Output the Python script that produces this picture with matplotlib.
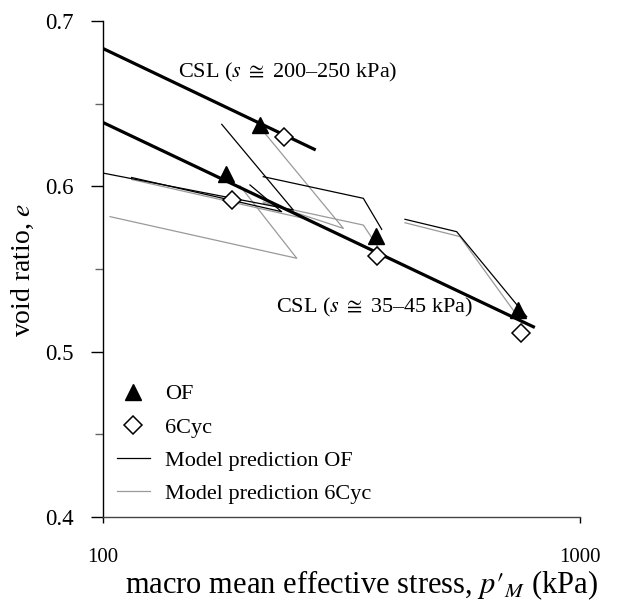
import numpy as np
import matplotlib
matplotlib.use("Agg")
import matplotlib.pyplot as plt
from matplotlib.ticker import FixedLocator, NullLocator, FixedFormatter

plt.rcParams['font.family'] = ['Liberation Serif', 'DejaVu Serif']
plt.rcParams['mathtext.fontset'] = 'stix'

# measured points (p'M in kPa, void ratio e)
of_p = [213.6, 181.0, 373.8, 742.5]
of_e = [0.637, 0.6075, 0.570, 0.525]
cyc_p = [240.2, 186.3, 375.1, 751.0]
cyc_e = [0.6298, 0.5918, 0.5579, 0.511]

# critical state lines
csl_hi_p = [100.0, 277.5]
csl_hi_e = [0.6836, 0.6225]
csl_lo_p = [100.0, 798.6]
csl_lo_e = [0.6388, 0.515]

# model predictions, OF (black)
mod_of = [
    ([100.5, 250.8, 177.6], [0.6080, 0.5857, 0.6376]),
    ([115.0, 237.1, 203.5], [0.6054, 0.5847, 0.6009]),
    ([217.0, 351.6, 384.2], [0.6059, 0.5928, 0.5740]),
    ([429.8, 551.5, 773.3], [0.5801, 0.5726, 0.5211]),
]
# model predictions, 6Cyc (grey)
mod_cyc = [
    ([103.6, 255.0, 194.0], [0.5817, 0.5565, 0.6003]),
    ([115.0, 263.2], [0.6042, 0.5807]),
    ([217.0, 319.3, 210.2], [0.5906, 0.5746, 0.6382]),
    ([217.0, 351.6, 381.1], [0.5897, 0.5766, 0.5615]),
    ([429.8, 560.5, 758.6], [0.5780, 0.5696, 0.5171]),
]

fig = plt.figure(figsize=(6.22, 6.03), dpi=100)
ax = fig.add_axes([0.1651, 0.1431, 0.7674, 0.8216])

grey = '#9a9a9a'
for i, (p, e) in enumerate(mod_cyc):
    ax.plot(p, e, color=grey, lw=0.9, label='Model prediction 6Cyc' if i == 0 else None, zorder=2)
for i, (p, e) in enumerate(mod_of):
    ax.plot(p, e, color='black', lw=0.9, label='Model prediction OF' if i == 0 else None, zorder=3)

ax.plot(csl_hi_p, csl_hi_e, color='black', lw=2.3, zorder=4)
ax.plot(csl_lo_p, csl_lo_e, color='black', lw=2.3, zorder=4)

ax.plot(of_p, of_e, ls='none', marker='^', ms=11, color='black', label='OF', zorder=5)
ax.plot(cyc_p, cyc_e, ls='none', marker='D', ms=9, mfc='white', mec='black', mew=1.1,
        label='6Cyc', zorder=5)

ax.set_xscale('log')
ax.set_xlim(100, 1000)
ax.set_ylim(0.4, 0.7)
ax.xaxis.set_major_locator(FixedLocator([100, 1000]))
ax.xaxis.set_major_formatter(FixedFormatter(['100', '1000']))
ax.xaxis.set_minor_locator(NullLocator())
ax.set_yticks([0.4, 0.5, 0.6, 0.7])
ax.set_yticklabels(['0.4', '0.5', '0.6', '0.7'])
ax.set_yticks([0.45, 0.55, 0.65], minor=True)

ax.spines['top'].set_visible(False)
ax.spines['right'].set_visible(False)
ax.spines['left'].set_linewidth(1.0)
ax.spines['bottom'].set_linewidth(1.0)
ax.spines['bottom'].set_color('#444444')
ax.tick_params(axis='y', which='major', direction='out', length=8.6, width=1.0, pad=12.5, labelsize=16.5)
ax.tick_params(axis='y', which='minor', direction='out', length=5.8, width=1.0, color='#666666')
ax.tick_params(axis='x', which='major', direction='out', length=4.5, width=1.0, pad=18, labelsize=15)

ax.text(0.543, -0.138, r"macro mean effective stress, $p\prime_{M}$ (kPa)", transform=ax.transAxes,
        ha='center', va='center', fontsize=22)
ax.text(-0.167, 0.498, r"void ratio, $e$", transform=ax.transAxes, rotation=90,
        ha='center', va='center', fontsize=20)

ax.text(0.158, 0.896, r"CSL ($s\;\cong$ 200–250 kPa)", transform=ax.transAxes,
        ha='left', va='center', fontsize=16)
ax.text(0.776, 0.423, r"CSL ($s\;\cong$ 35–45 kPa)", transform=ax.transAxes,
        ha='right', va='center', fontsize=16)

h, l = ax.get_legend_handles_labels()
order = [l.index(k) for k in ['OF', '6Cyc', 'Model prediction OF', 'Model prediction 6Cyc']]
ax.legend([h[i] for i in order], [l[i] for i in order], loc='lower left',
          bbox_to_anchor=(-0.002, -0.006), frameon=False, fontsize=16, handlelength=1.45,
          handletextpad=0.7, labelspacing=0.57, borderpad=0.2)

fig.savefig('out.png', dpi=100)
